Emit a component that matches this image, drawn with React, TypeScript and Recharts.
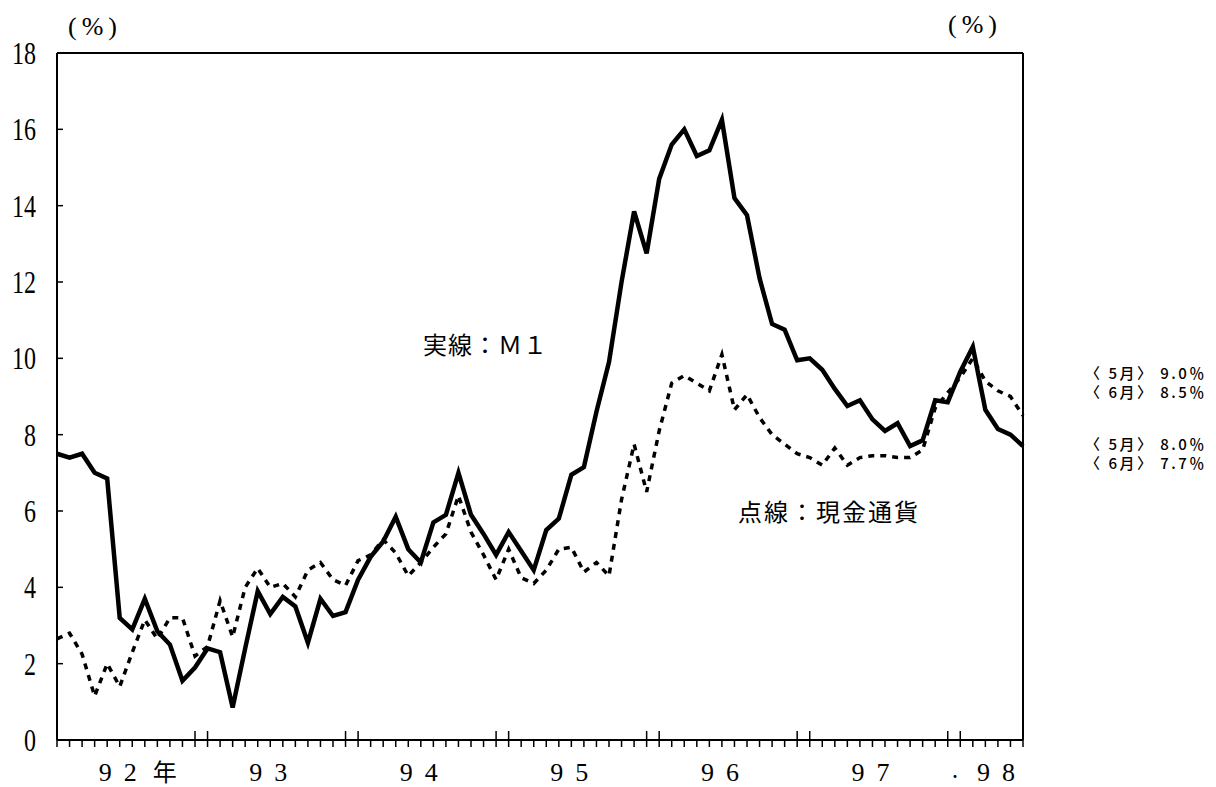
import { LineChart, Line, XAxis, YAxis, ReferenceLine } from 'recharts';

// monthly, Jan 92 .. Jun 98
const YEARS = ['92', '93', '94', '95', '96', '97', '98'];
const MONTHS = [1, 2, 3, 4, 5, 6, 7, 8, 9, 10, 11, 12];
const categories = YEARS.flatMap((y) => MONTHS.map((m) => `${y}/${m}`)).slice(0, 78);

// M1 (solid)
const m1 = [
  7.5, 7.4, 7.5, 7.0, 6.85, 3.2, 2.9, 3.7, 2.85, 2.5, 1.55, 1.9,
  2.4, 2.3, 0.85, 2.4, 3.9, 3.3, 3.75, 3.5, 2.55, 3.7, 3.25, 3.35,
  4.2, 4.8, 5.2, 5.85, 5.0, 4.65, 5.7, 5.9, 7.0, 5.9, 5.4, 4.85,
  5.45, 4.95, 4.45, 5.5, 5.8, 6.95, 7.15, 8.6, 9.9, 12.0, 13.85, 12.75,
  14.7, 15.6, 16.0, 15.3, 15.45, 16.25, 14.2, 13.75, 12.1, 10.9, 10.75, 9.95,
  10.0, 9.7, 9.2, 8.75, 8.9, 8.4, 8.1, 8.3, 7.7, 7.85, 8.9, 8.85,
  9.65, 10.3, 8.65, 8.15, 8.0, 7.7,
];

// 現金通貨 (dashed)
const cash = [
  2.65, 2.8, 2.25, 1.15, 2.0, 1.4, 2.3, 3.15, 2.65, 3.2, 3.2, 2.2,
  2.45, 3.65, 2.7, 4.0, 4.5, 4.0, 4.1, 3.75, 4.45, 4.65, 4.2, 4.05,
  4.7, 4.85, 5.25, 4.9, 4.3, 4.65, 5.05, 5.4, 6.4, 5.45, 4.85, 4.2,
  5.0, 4.25, 4.1, 4.45, 5.0, 5.05, 4.4, 4.65, 4.3, 6.3, 7.75, 6.5,
  8.1, 9.35, 9.55, 9.35, 9.15, 10.1, 8.65, 9.05, 8.45, 8.0, 7.75, 7.5,
  7.4, 7.2, 7.65, 7.2, 7.4, 7.45, 7.45, 7.4, 7.4, 7.6, 8.7, 9.1,
  9.5, 10.0, 9.4, 9.15, 9.0, 8.5,
];

const yTicks = [0, 2, 4, 6, 8, 10, 12, 14, 16, 18];
const yearLabels = ['9 2', '9 3', '9 4', '9 5', '9 6', '9 7', '9 8'];
const lastValues = ['〈 5月〉 9.0％', '〈 6月〉 8.5％', '〈 5月〉 8.0％', '〈 6月〉 7.7％'];

const data = categories.map((month, i) => ({ month, m1: m1[i], cash: cash[i] }));

const serif = "'Liberation Serif', 'DejaVu Serif', serif";
const cjk = "'Noto Sans CJK JP', 'Noto Sans', sans-serif";

function ValueTick({ x, y, payload, textAnchor }: any) {
  return (
    <text
      transform={`translate(${x},${y}) scale(0.75,1)`}
      textAnchor={textAnchor}
      dy="0.34em"
      fontSize={32}
      fontFamily={serif}
      fill="#000"
    >
      {payload.value}
    </text>
  );
}

function MonthTick({ x, y, payload }: any) {
  const [yr, mo] = String(payload.value).split('/');
  const month = Number(mo);
  const boundary = month === 12 || (month === 1 && yr !== '92');
  const showLabel = yr === '98' ? month === 4 : month === 6;
  const label = yearLabels[YEARS.indexOf(yr)];
  const digits = label ? label.split(' ') : [];
  const cx = x - 2;
  return (
    <g>
      <line x1={x} x2={x} y1={boundary ? y - 9 : y} y2={y + 7} stroke="#000" strokeWidth={1.5} />
      {showLabel &&
        digits.map((d, k) => (
          <text
            key={k}
            x={cx + (k - (digits.length - 1) / 2) * 25}
            y={y + 41}
            textAnchor="middle"
            fontSize={26}
            fontFamily={serif}
            fill="#000"
          >
            {d}
          </text>
        ))}
      {showLabel && yr === '92' && (
        <text x={x + 45} y={y + 41} textAnchor="middle" fontSize={24} fontFamily={cjk} fill="#000">
          年
        </text>
      )}
      {showLabel && yr === '98' && (
        <text x={x - 43} y={y + 41} textAnchor="middle" fontSize={14} fontFamily={cjk} fill="#000">
          ・
        </text>
      )}
    </g>
  );
}

export default function App() {
  return (
    <div style={{ position: 'absolute', left: 8, top: 8, width: 1200, height: 779, background: '#fff' }}>
      <LineChart width={1200} height={779} data={data} margin={{ top: 45, right: 125, bottom: 6, left: 4 }}>
        <XAxis
          dataKey="month"
          interval={0}
          tickLine={false}
          tickSize={0}
          tickMargin={0}
          height={41}
          axisLine={{ stroke: '#000', strokeWidth: 2 }}
          tick={<MonthTick />}
        />
        <YAxis
          yAxisId="left"
          domain={[0, 18]}
          ticks={yTicks}
          interval={0}
          width={45}
          tickSize={-6}
          tickMargin={27}
          axisLine={{ stroke: '#000', strokeWidth: 2 }}
          tickLine={{ stroke: '#000', strokeWidth: 1.5 }}
          tick={<ValueTick />}
        />
        <YAxis
          yAxisId="right"
          orientation="right"
          domain={[0, 18]}
          ticks={yTicks}
          interval={0}
          width={60}
          tickSize={-8}
          tickMargin={30}
          axisLine={{ stroke: '#000', strokeWidth: 2 }}
          tickLine={{ stroke: '#000', strokeWidth: 1.5 }}
          tick={<ValueTick />}
        />
        <ReferenceLine yAxisId="left" y={18} stroke="#000" strokeWidth={2} />
        <Line
          yAxisId="left"
          type="linear"
          dataKey="cash"
          stroke="#000"
          strokeWidth={3.5}
          strokeDasharray="6 6"
          dot={false}
          isAnimationActive={false}
        />
        <Line
          yAxisId="left"
          type="linear"
          dataKey="m1"
          stroke="#000"
          strokeWidth={4.5}
          dot={false}
          isAnimationActive={false}
        />
      </LineChart>

      <div style={{ position: 'absolute', left: 60, top: 6, fontFamily: serif, fontSize: 26, letterSpacing: 5, lineHeight: 1 }}>
        (%)
      </div>
      <div style={{ position: 'absolute', left: 940, top: 4, fontFamily: serif, fontSize: 26, letterSpacing: 5, lineHeight: 1 }}>
        (%)
      </div>

      <div style={{ position: 'absolute', left: 415, top: 324, fontFamily: cjk, fontSize: 24, letterSpacing: 1, lineHeight: 1 }}>
        実線：Ｍ１
      </div>
      <div style={{ position: 'absolute', left: 730, top: 491, fontFamily: cjk, fontSize: 24, letterSpacing: 2, lineHeight: 1 }}>
        点線：現金通貨
      </div>

      {lastValues.map((t, i) => (
        <div
          key={i}
          style={{
            position: 'absolute',
            left: 1077,
            top: [357, 376, 428, 447][i],
            fontFamily: cjk,
            fontSize: 15,
            fontWeight: 500,
            letterSpacing: 2.5,
            lineHeight: 1,
            whiteSpace: 'pre',
          }}
        >
          {t}
        </div>
      ))}
    </div>
  );
}
